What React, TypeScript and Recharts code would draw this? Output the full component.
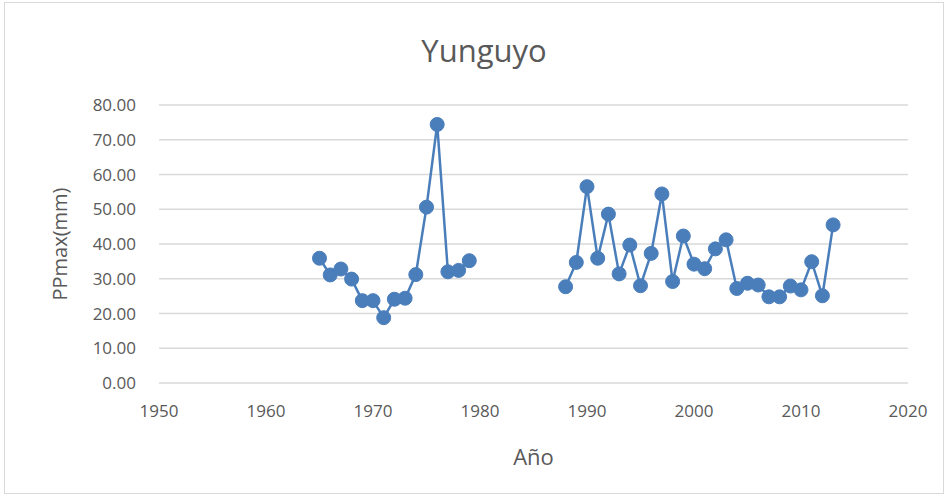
import React from 'react';
import { LineChart, Line, XAxis, YAxis, CartesianGrid } from 'recharts';

// Yunguyo station – annual maximum precipitation (mm); null = no record
const years = [
  1965, 1966, 1967, 1968, 1969, 1970, 1971, 1972, 1973, 1974, 1975, 1976, 1977, 1978, 1979,
  1980, 1981, 1982, 1983, 1984, 1985, 1986, 1987,
  1988, 1989, 1990, 1991, 1992, 1993, 1994, 1995, 1996, 1997, 1998, 1999, 2000,
  2001, 2002, 2003, 2004, 2005, 2006, 2007, 2008, 2009, 2010, 2011, 2012, 2013,
];
const ppmax: (number | null)[] = [
  35.9, 31.1, 32.8, 29.9, 23.7, 23.7, 18.8, 24.1, 24.4, 31.2, 50.6, 74.4, 32.0, 32.4, 35.2,
  null, null, null, null, null, null, null, null,
  27.7, 34.7, 56.5, 35.9, 48.6, 31.4, 39.7, 28.0, 37.3, 54.4, 29.2, 42.3, 34.2,
  32.9, 38.6, 41.2, 27.2, 28.7, 28.2, 24.8, 24.8, 27.9, 26.8, 34.9, 25.1, 45.5,
];
const xTicks = [1950, 1960, 1970, 1980, 1990, 2000, 2010, 2020];
const yTicks = [0, 10, 20, 30, 40, 50, 60, 70, 80];

const data = years.map((year, i) => ({ year, ppmax: ppmax[i] }));

const font = '"Open Sans", sans-serif';
const grey = '#595959';

const App = () => {
  return (
    <div style={{ position: 'absolute', left: 0, top: 0, width: 949, height: 497, background: '#fff' }}>
      <div
        style={{
          position: 'absolute',
          left: 4,
          top: 2,
          width: 940,
          height: 492,
          border: '1px solid #d9d9d9',
          boxSizing: 'border-box',
        }}
      />
      <LineChart
        width={949}
        height={497}
        data={data}
        margin={{ top: 105, right: 41, bottom: 0, left: 0 }}
        style={{ position: 'absolute', left: 0, top: 0, fontFamily: font }}
      >
        <text x={484} y={62} textAnchor="middle" fill={grey} fontSize={31} fontFamily={font}>
          Yunguyo
        </text>
        <CartesianGrid vertical={false} stroke="#d9d9d9" strokeWidth={1.5} />
        <XAxis
          dataKey="year"
          type="number"
          domain={[1950, 2020]}
          ticks={xTicks}
          axisLine={false}
          tickLine={false}
          tickSize={0}
          tickMargin={22}
          height={114}
          tick={{ fill: grey, fontSize: 17 }}
          label={{ value: 'Año', position: 'insideBottom', offset: 32, fill: grey, fontSize: 22 }}
        />
        <YAxis
          domain={[0, 80]}
          ticks={yTicks}
          axisLine={false}
          tickLine={false}
          tickSize={0}
          tickMargin={23}
          width={159}
          tick={{ fill: grey, fontSize: 17 }}
          tickFormatter={(v: number) => v.toFixed(2)}
          label={{
            value: 'PPmax(mm)',
            angle: -90,
            position: 'insideLeft',
            offset: 60,
            fill: grey,
            fontSize: 20,
            style: { textAnchor: 'middle' },
          }}
        />
        <Line
          type="linear"
          dataKey="ppmax"
          stroke="#4a7ebb"
          strokeWidth={2.5}
          connectNulls={false}
          dot={{ r: 7, fill: '#4a7ebb', stroke: '#4a7ebb', strokeWidth: 1 }}
          isAnimationActive={false}
        />
      </LineChart>
    </div>
  );
};

export default App;
